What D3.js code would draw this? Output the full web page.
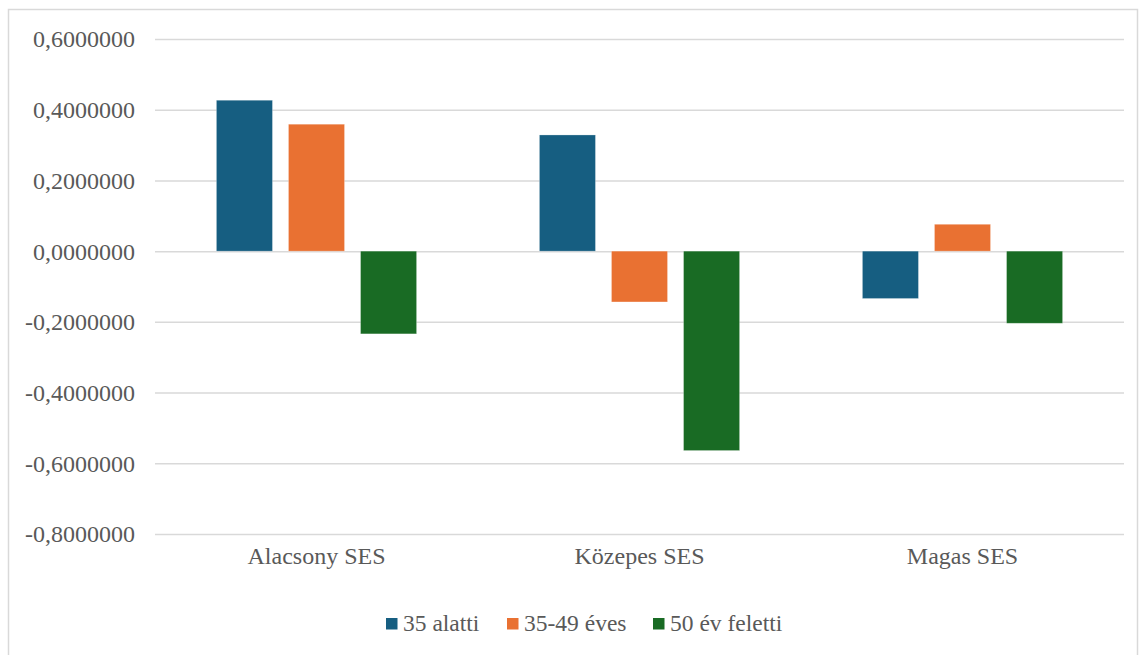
<!DOCTYPE html>
<html>
<head>
<meta charset="utf-8">
<script src="https://cdn.jsdelivr.net/npm/d3@7"></script>
<style>
  text { font-family: "Liberation Serif", serif !important; }
</style>
</head>
<body style="margin:0">
<svg id="chart" width="1139" height="655" font-family="Liberation Serif"></svg>
<script>
// Category groups along the x axis
const categories = ["Alacsony SES", "Közepes SES", "Magas SES"];
// Age-group series
const seriesNames = ["35 alatti", "35-49 éves", "50 év feletti"];
const seriesColors = ["#165E81", "#E97132", "#196B24"];
// Values per series, in category order
const under35 = [0.4268, 0.3286, -0.1340];
const age35to49 = [0.3590, -0.1437, 0.0760];
const over50 = [-0.2340, -0.5640, -0.2040];
const seriesValues = [under35, age35to49, over50];
// Y-axis ticks
const yTicks = [0.6, 0.4, 0.2, 0.0, -0.2, -0.4, -0.6, -0.8];
const yTickLabels = ["0,6000000", "0,4000000", "0,2000000", "0,0000000",
                     "-0,2000000", "-0,4000000", "-0,6000000", "-0,8000000"];

const svg = d3.select("#chart");
const FONT = "Liberation Serif";
const textColor = "#595959";

// outer chart frame
svg.append("rect")
  .attr("x", 8.5).attr("y", 9.5)
  .attr("width", 1129).attr("height", 660)
  .attr("fill", "#fff")
  .attr("stroke", "#d9d9d9").attr("stroke-width", 1.5);

const plot = { left: 155, right: 1124, top: 39, bottom: 534 };

const y = d3.scaleLinear().domain([-0.8, 0.6]).range([plot.bottom, plot.top]);
const x0 = d3.scaleBand().domain(categories).range([plot.left, plot.right]).paddingInner(0).paddingOuter(0);

// bar layout within each category: 3 bars, width and gap relative to band
const bw = x0.bandwidth();
const barW = bw * 0.1735;
const barGap = barW * 0.286;
const groupW = 3 * barW + 2 * barGap;
const x1 = d3.scaleOrdinal().domain(d3.range(3))
  .range(d3.range(3).map(i => (bw - groupW) / 2 + i * (barW + barGap)));

// gridlines and tick labels
const yAxis = d3.axisLeft(y).tickValues(yTicks)
  .tickSize(-(plot.right - plot.left))
  .tickFormat((d, i) => yTickLabels[i]);

const gy = svg.append("g")
  .attr("transform", `translate(${plot.left},0)`)
  .call(yAxis)
  .attr("font-family", FONT).attr("font-size", 24);
gy.select(".domain").remove();
gy.selectAll(".tick line")
  .attr("stroke", "#d9d9d9").attr("stroke-width", 1.5);
gy.selectAll(".tick text")
  .attr("x", -20)
  .attr("dy", "0.33em")
  .attr("fill", textColor)
  .attr("font-family", FONT)
  .attr("font-size", 24);

// bars
const groups = svg.append("g").selectAll("g")
  .data(categories)
  .join("g")
  .attr("transform", d => `translate(${x0(d)},0)`);

groups.selectAll("rect")
  .data((c, ci) => seriesValues.map((vals, si) => ({ si, v: vals[ci] })))
  .join("rect")
  .attr("x", d => x1(d.si))
  .attr("width", barW)
  .attr("y", d => y(Math.max(0, d.v)))
  .attr("height", d => Math.abs(y(d.v) - y(0)))
  .attr("fill", d => seriesColors[d.si])
  .attr("stroke", "#ffffff").attr("stroke-opacity", 0.35).attr("stroke-width", 0.75);

// category labels under the plot
const xAxis = d3.axisBottom(x0).tickSize(0);
const gx = svg.append("g")
  .attr("transform", `translate(0,${plot.bottom})`)
  .call(xAxis)
  .attr("font-family", FONT).attr("font-size", 24);
gx.select(".domain").remove();
gx.selectAll(".tick text")
  .attr("y", 13)
  .attr("dy", "0.71em")
  .attr("fill", textColor)
  .attr("font-family", FONT)
  .attr("font-size", 24);

// legend
const legendX = [386, 507, 653];
const legend = svg.append("g");
seriesNames.forEach((name, i) => {
  legend.append("rect")
    .attr("x", legendX[i]).attr("y", 618)
    .attr("width", 11.5).attr("height", 11.5)
    .attr("fill", seriesColors[i]);
  legend.append("text")
    .attr("x", legendX[i] + 17).attr("y", 631)
    .attr("fill", textColor)
    .attr("font-family", FONT)
    .attr("font-size", 23.5)
    .text(name);
});
</script>
</body>
</html>
